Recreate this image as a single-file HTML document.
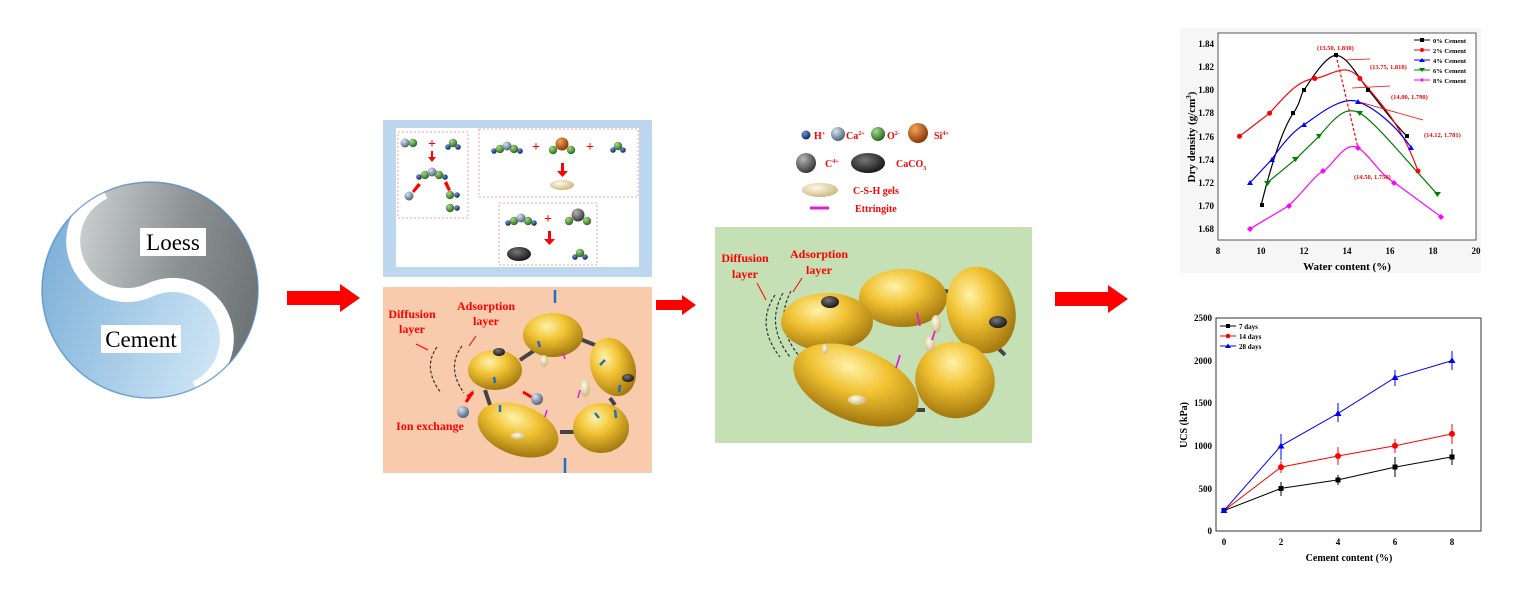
<!DOCTYPE html>
<html><head><meta charset="utf-8"><style>
html,body{margin:0;padding:0;background:#fff;}
svg{display:block;}
text{font-family:"Liberation Serif",serif;}
</style></head><body>
<svg width="1535" height="591" viewBox="0 0 1535 591" xmlns="http://www.w3.org/2000/svg">
<defs>
<radialGradient id="gold" cx="40%" cy="30%" r="70%"><stop offset="0" stop-color="#fff2a8"/><stop offset="0.45" stop-color="#f1c232"/><stop offset="1" stop-color="#a57a10"/></radialGradient>
<radialGradient id="gO" cx="35%" cy="30%" r="70%"><stop offset="0" stop-color="#a6d98a"/><stop offset="1" stop-color="#2f6b1e"/></radialGradient>
<radialGradient id="gH" cx="35%" cy="30%" r="70%"><stop offset="0" stop-color="#6f95d6"/><stop offset="1" stop-color="#10275c"/></radialGradient>
<radialGradient id="gCa" cx="35%" cy="30%" r="70%"><stop offset="0" stop-color="#d8e4f2"/><stop offset="1" stop-color="#4f6580"/></radialGradient>
<radialGradient id="gSi" cx="35%" cy="30%" r="70%"><stop offset="0" stop-color="#f6a35a"/><stop offset="1" stop-color="#8a3b05"/></radialGradient>
<radialGradient id="gC" cx="35%" cy="30%" r="70%"><stop offset="0" stop-color="#b5b5b5"/><stop offset="1" stop-color="#3a3a3a"/></radialGradient>
<radialGradient id="gK" cx="40%" cy="35%" r="70%"><stop offset="0" stop-color="#777"/><stop offset="1" stop-color="#111"/></radialGradient>
<radialGradient id="gS" cx="40%" cy="35%" r="70%"><stop offset="0" stop-color="#fffbe8"/><stop offset="1" stop-color="#c9b47a"/></radialGradient>
<linearGradient id="gray" x1="0" y1="0" x2="1" y2="1"><stop offset="0" stop-color="#d8dcdc"/><stop offset="0.5" stop-color="#8c9294"/><stop offset="1" stop-color="#5f6466"/></linearGradient>
<linearGradient id="blue" x1="0" y1="0" x2="1" y2="1"><stop offset="0" stop-color="#6fa6d2"/><stop offset="0.6" stop-color="#b7d7ee"/><stop offset="1" stop-color="#e9f4fb"/></linearGradient>
<g id="water"><circle cx="-5" cy="3" r="2.8" fill="url(#gH)"/><circle cx="5" cy="3" r="2.8" fill="url(#gH)"/><circle cx="0" cy="-1" r="4.2" fill="url(#gO)"/></g>
<g id="caoh"><circle cx="-13" cy="4" r="2.8" fill="url(#gH)"/><circle cx="13" cy="4" r="2.8" fill="url(#gH)"/><circle cx="-7" cy="2" r="4.2" fill="url(#gO)"/><circle cx="7" cy="2" r="4.2" fill="url(#gO)"/><circle cx="0" cy="-1" r="4.5" fill="url(#gCa)"/></g>
</defs>

<!-- Yin-yang -->
<g transform="translate(150,290) rotate(-25)">
<circle cx="0" cy="0" r="108" fill="url(#blue)"/>
<path d="M0,-108 A108,108 0 0 1 0,108 A54,54 0 0 0 0,0 A54,54 0 0 1 0,-108 Z" fill="url(#gray)"/>
<path d="M0,-108 A54,54 0 0 0 0,0 A54,54 0 0 1 0,108" fill="none" stroke="#fff" stroke-width="14"/>
<circle cx="0" cy="0" r="108" fill="none" stroke="#4a86c0" stroke-width="1.5" opacity="0.7"/>
</g>
<rect x="140" y="228" width="66" height="28" fill="#fff"/>
<text x="173" y="250" font-size="23" text-anchor="middle">Loess</text>
<rect x="101" y="325" width="80" height="28" fill="#fff"/>
<text x="141" y="347" font-size="23" text-anchor="middle">Cement</text>

<!-- arrows -->
<polygon points="287,291 340,291 340,284 360,298 340,312 340,305 287,305" fill="#f00"/>
<polygon points="656,300 682,300 682,295 696,305 682,315 682,310 656,310" fill="#f00"/>
<polygon points="1055,292 1108,292 1108,285 1128,299 1108,313 1108,306 1055,306" fill="#f00"/>

<!-- Blue reaction box -->
<rect x="383" y="120" width="269" height="157" fill="#bdd7ee"/>
<rect x="396" y="128" width="243" height="139" fill="#fff"/>
<g fill="none" stroke="#f4a0a0" stroke-width="1" stroke-dasharray="2 2">
<rect x="398" y="132" width="70" height="86"/><rect x="479" y="129" width="159" height="68"/><rect x="499" y="203" width="98" height="62"/></g>
<g font-family="Liberation Sans,sans-serif" font-size="14" fill="#f00" font-weight="bold">
<text x="428" y="148">+</text><text x="532" y="151">+</text><text x="586" y="151">+</text><text x="544" y="223">+</text></g>
<g fill="#f00"><rect x="431" y="151" width="2" height="6"/><polygon points="428,157 436,157 432,162"/>
<rect x="561" y="163" width="3" height="9"/><polygon points="557,171 568,171 562.5,177"/>
<rect x="548" y="231" width="3" height="9"/><polygon points="544,239 555,239 549.5,245"/>
<polygon points="418,183 421,185 414,193 412,191"/><polygon points="444,183 447,181 451,190 448,191"/></g>
<circle cx="405" cy="143" r="4.5" fill="url(#gCa)"/><circle cx="413" cy="143" r="4.2" fill="url(#gO)"/>
<use href="#water" x="453" y="144"/>
<use href="#caoh" x="432" y="173"/>
<circle cx="409" cy="196" r="4.5" fill="url(#gCa)"/>
<circle cx="450" cy="195" r="4.2" fill="url(#gO)"/><circle cx="457" cy="195" r="2.8" fill="url(#gH)"/>
<circle cx="450" cy="208" r="4.2" fill="url(#gO)"/><circle cx="457" cy="208" r="2.8" fill="url(#gH)"/>
<use href="#caoh" x="507" y="147"/>
<circle cx="553" cy="150" r="4.2" fill="url(#gO)"/><circle cx="571" cy="150" r="4.2" fill="url(#gO)"/><circle cx="562" cy="144" r="6.5" fill="url(#gSi)"/>
<use href="#water" x="618" y="147"/>
<ellipse cx="562" cy="185" rx="12" ry="5" fill="url(#gS)"/>
<use href="#caoh" x="521" y="219"/>
<circle cx="569" cy="221" r="4.2" fill="url(#gO)"/><circle cx="587" cy="221" r="4.2" fill="url(#gO)"/><circle cx="578" cy="215" r="6.5" fill="url(#gC)"/>
<ellipse cx="519" cy="254" rx="12" ry="7" fill="url(#gK)"/>
<use href="#water" x="580" y="254"/>

<!-- Orange box -->
<rect x="383" y="287" width="269" height="186" fill="#f8cbad"/>
<g font-weight="bold" font-size="12" fill="#f00" text-anchor="middle">
<text x="412" y="318">Diffusion</text><text x="412" y="333">layer</text>
<text x="486" y="310">Adsorption</text><text x="486" y="325">layer</text>
<text x="430" y="430">Ion exchange</text></g>
<g stroke="#f00" stroke-width="1"><line x1="416" y1="344" x2="428" y2="350"/><line x1="476" y1="336" x2="469" y2="346"/></g>
<g fill="none" stroke="#333" stroke-width="1.2" stroke-dasharray="3 2"><path d="M437,347 Q422,368 441,393"/><path d="M462,346 Q446,368 464,393"/></g>
<g stroke="#444" stroke-width="4"><line x1="520" y1="360" x2="535" y2="350"/><line x1="580" y1="339" x2="595" y2="345"/><line x1="560" y1="432" x2="575" y2="432"/><line x1="485" y1="390" x2="490" y2="405"/><line x1="610" y1="398" x2="615" y2="405"/></g>
<ellipse cx="553" cy="335" rx="30" ry="22" fill="url(#gold)"/>
<ellipse cx="613" cy="367" rx="22" ry="30" transform="rotate(-20 613 367)" fill="url(#gold)"/>
<ellipse cx="495" cy="370" rx="27" ry="20" fill="url(#gold)"/>
<ellipse cx="518" cy="430" rx="42" ry="25" transform="rotate(20 518 430)" fill="url(#gold)"/>
<ellipse cx="601" cy="428" rx="28" ry="25" fill="url(#gold)"/>
<ellipse cx="499" cy="352" rx="6" ry="4" fill="url(#gK)"/><ellipse cx="628" cy="378" rx="6" ry="4" fill="url(#gK)"/>
<ellipse cx="518" cy="436" rx="7" ry="3.5" fill="url(#gS)"/><ellipse cx="585" cy="388" rx="5" ry="9" fill="url(#gS)"/><ellipse cx="544" cy="361" rx="4" ry="6" fill="url(#gS)"/>
<g stroke="#e020d0" stroke-width="1.5"><line x1="563" y1="353" x2="565" y2="359"/><line x1="580" y1="390" x2="578" y2="398"/><line x1="547" y1="410" x2="545" y2="417"/></g>
<g stroke="#1f6fc0" stroke-width="2.5"><line x1="555" y1="290" x2="555" y2="303"/><line x1="565" y1="458" x2="565" y2="473"/><line x1="538" y1="341" x2="540" y2="347"/><line x1="494" y1="377" x2="495" y2="383"/><line x1="500" y1="405" x2="500" y2="412"/><line x1="600" y1="365" x2="605" y2="360"/><line x1="620" y1="385" x2="619" y2="392"/><line x1="595" y1="413" x2="599" y2="418"/><line x1="615" y1="410" x2="616" y2="418"/></g>
<g fill="#f00"><polygon points="474,390 470,398 466,396"/><line x1="466" y1="402" x2="473" y2="392" stroke="#f00" stroke-width="3"/><line x1="523" y1="392" x2="533" y2="398" stroke="#f00" stroke-width="3"/></g>
<circle cx="537" cy="399" r="6" fill="url(#gCa)"/><circle cx="463" cy="412" r="6" fill="url(#gCa)"/>

<!-- Legend -->
<circle cx="806" cy="135" r="4.5" fill="url(#gH)"/><circle cx="838" cy="134" r="7" fill="url(#gCa)"/><circle cx="878" cy="134" r="7" fill="url(#gO)"/><circle cx="918" cy="133" r="10" fill="url(#gSi)"/>
<circle cx="806" cy="163" r="10" fill="url(#gC)"/><ellipse cx="868" cy="163" rx="17" ry="10" fill="url(#gK)"/>
<ellipse cx="820" cy="190" rx="18" ry="7" fill="url(#gS)"/><line x1="810" y1="208" x2="829" y2="208" stroke="#e020d0" stroke-width="3"/>
<g font-weight="bold" font-size="10" fill="#f00">
<text x="814" y="139">H<tspan font-size="6" dy="-4">+</tspan></text>
<text x="846" y="139">Ca<tspan font-size="6" dy="-4">2+</tspan></text>
<text x="887" y="139">O<tspan font-size="6" dy="-4">2-</tspan></text>
<text x="934" y="139">Si<tspan font-size="6" dy="-4">4+</tspan></text>
<text x="825" y="167">C<tspan font-size="6" dy="-4">4+</tspan></text>
<text x="896" y="167">CaCO<tspan font-size="6" dy="3">3</tspan></text>
<text x="853" y="194">C-S-H gels</text>
<text x="855" y="212">Ettringite</text></g>

<!-- Green box -->
<rect x="715" y="227" width="317" height="216" fill="#c5e0b4"/>
<g font-weight="bold" font-size="12" fill="#f00" text-anchor="middle">
<text x="745" y="262">Diffusion</text><text x="745" y="278">layer</text>
<text x="819" y="258">Adsorption</text><text x="819" y="274">layer</text></g>
<g stroke="#f00" stroke-width="1"><line x1="757" y1="283" x2="766" y2="300"/><line x1="802" y1="278" x2="793" y2="292"/></g>
<g fill="none" stroke="#333" stroke-width="1.2" stroke-dasharray="3 2"><path d="M775,295 Q755,325 780,357"/><path d="M783,293 Q765,325 790,357"/><path d="M791,291 Q773,325 800,357"/></g>
<g stroke="#444" stroke-width="4"><line x1="870" y1="305" x2="880" y2="298"/><line x1="940" y1="290" x2="950" y2="292"/><line x1="910" y1="410" x2="925" y2="410"/><line x1="995" y1="345" x2="1005" y2="355"/></g>
<ellipse cx="903" cy="298" rx="44" ry="29" fill="url(#gold)"/>
<ellipse cx="981" cy="310" rx="34" ry="44" transform="rotate(-15 981 310)" fill="url(#gold)"/>
<ellipse cx="827" cy="322" rx="46" ry="29" fill="url(#gold)"/>
<ellipse cx="856" cy="385" rx="66" ry="36" transform="rotate(22 856 385)" fill="url(#gold)"/>
<ellipse cx="955" cy="380" rx="40" ry="38" transform="rotate(20 955 380)" fill="url(#gold)"/>
<ellipse cx="830" cy="302" rx="9" ry="6" fill="url(#gK)"/><ellipse cx="998" cy="322" rx="9" ry="6" fill="url(#gK)"/>
<ellipse cx="857" cy="400" rx="9" ry="5" fill="url(#gS)"/><ellipse cx="936" cy="324" rx="5" ry="9" fill="url(#gS)"/><ellipse cx="930" cy="344" rx="5" ry="8" fill="url(#gS)"/><ellipse cx="825" cy="349" rx="3" ry="5" fill="url(#gS)"/>
<g stroke="#e020d0" stroke-width="1.8"><line x1="917" y1="313" x2="920" y2="326"/><line x1="935" y1="331" x2="932" y2="340"/><line x1="900" y1="355" x2="896" y2="368"/></g>

<!-- Chart 1 -->
<rect x="1180" y="28" width="301" height="245" fill="#f6f6f6"/>
<rect x="1218" y="33" width="258" height="207" fill="#fff" stroke="#555" stroke-width="1"/>
<g font-weight="bold" font-size="9" fill="#000">
<g text-anchor="end"><text x="1214" y="47">1.84</text><text x="1214" y="70">1.82</text><text x="1214" y="93">1.80</text><text x="1214" y="116">1.78</text><text x="1214" y="140">1.76</text><text x="1214" y="163">1.74</text><text x="1214" y="186">1.72</text><text x="1214" y="209">1.70</text><text x="1214" y="232">1.68</text></g>
<g text-anchor="middle"><text x="1218" y="254">8</text><text x="1261" y="254">10</text><text x="1304" y="254">12</text><text x="1347" y="254">14</text><text x="1390" y="254">16</text><text x="1433" y="254">18</text><text x="1476" y="254">20</text>
<text x="1347" y="270" font-size="11">Water content (%)</text></g>
<text transform="translate(1195,137) rotate(-90)" font-size="11" text-anchor="middle">Dry density (g/cm<tspan font-size="7" dy="-4">3</tspan><tspan dy="4">)</tspan></text>
</g>
<g fill="none" stroke-width="1.2">
<path d="M1261,205.6 C1275,150 1285,125 1293.3,113.2 S1300,95 1304,90 S1325,55 1336.3,55.4 S1360,80 1368.5,90 S1395,125 1407.2,136.3" stroke="#000"/>
<path d="M1239.5,136.3 L1269.6,113.2 C1290,90 1300,80 1314.8,78.5 S1345,60 1359.9,78.5 S1400,120 1418,171" stroke="#f00"/>
<path d="M1250.3,182.5 L1271.8,159.4 C1285,140 1295,130 1304,124.7 S1340,95 1357.8,101.6 S1395,125 1411.5,147.8" stroke="#00f"/>
<path d="M1267.5,182.5 L1295.4,159.4 L1319,136.3 C1335,118 1345,105 1359.9,113.2 S1410,165 1437.3,194.1" stroke="#008000"/>
<path d="M1250.3,228.7 L1289,205.6 C1305,190 1315,175 1323.4,171 S1345,140 1357.8,147.8 S1380,175 1394.3,182.5 L1441.6,217.2" stroke="#f0f"/>
<line x1="1336" y1="55" x2="1358" y2="148" stroke="#f00" stroke-dasharray="3 2"/>
<g stroke="#f00" stroke-width="0.8"><line x1="1345" y1="60" x2="1370" y2="59"/><line x1="1352" y1="88" x2="1390" y2="86"/><line x1="1356" y1="101" x2="1423" y2="120"/></g>
</g>
<g font-size="5">
<g fill="#000"><rect x="1260" y="203" width="4" height="4"/><rect x="1291" y="111" width="4" height="4"/><rect x="1302" y="88" width="4" height="4"/><rect x="1334" y="53" width="4" height="4"/><rect x="1366" y="88" width="4" height="4"/><rect x="1405" y="134" width="4" height="4"/></g>
<g fill="#f00"><circle cx="1239.5" cy="136.3" r="2.5"/><circle cx="1269.6" cy="113.2" r="2.5"/><circle cx="1314.8" cy="78.5" r="2.5"/><circle cx="1359.9" cy="78.5" r="2.5"/><circle cx="1418" cy="171" r="2.5"/></g>
<g fill="#00f"><polygon points="1250,180 1253,185 1247,185"/><polygon points="1272,157 1275,162 1269,162"/><polygon points="1304,122 1307,127 1301,127"/><polygon points="1358,99 1361,104 1355,104"/><polygon points="1411,145 1414,150 1408,150"/></g>
<g fill="#008000"><polygon points="1264,181 1271,181 1267.5,186"/><polygon points="1292,157 1299,157 1295.4,162"/><polygon points="1316,134 1322,134 1319,139"/><polygon points="1356,111 1363,111 1359.9,116"/><polygon points="1434,192 1441,192 1437.3,197"/></g>
<g fill="#f0f"><polygon points="1250,226 1253,229 1250,232 1247,229"/><polygon points="1289,203 1292,206 1289,209 1286,206"/><polygon points="1323,168 1326,171 1323,174 1320,171"/><polygon points="1358,145 1361,148 1358,151 1355,148"/><polygon points="1394,180 1397,183 1394,186 1391,183"/><polygon points="1441,214 1444,217 1441,220 1438,217"/></g>
</g>
<g font-weight="bold" font-size="6.5" fill="#f00">
<text x="1317" y="50">(13.50, 1.830)</text><text x="1370" y="69">(13.75, 1.818)</text><text x="1391" y="99">(14.00, 1.790)</text><text x="1424" y="137">(14.12, 1.781)</text><text x="1354" y="179">(14.50, 1.750)</text></g>
<g font-weight="bold" font-size="6.5" fill="#000">
<line x1="1414" y1="40" x2="1430" y2="40" stroke="#000"/><rect x="1420" y="38" width="4" height="4"/><text x="1433" y="43">0% Cement</text>
<line x1="1414" y1="50" x2="1430" y2="50" stroke="#f00"/><circle cx="1422" cy="50" r="2" fill="#f00"/><text x="1433" y="53">2% Cement</text>
<line x1="1414" y1="60" x2="1430" y2="60" stroke="#00f"/><polygon points="1422,58 1425,62 1419,62" fill="#00f"/><text x="1433" y="63">4% Cement</text>
<line x1="1414" y1="70" x2="1430" y2="70" stroke="#008000"/><polygon points="1419,68 1425,68 1422,72" fill="#008000"/><text x="1433" y="73">6% Cement</text>
<line x1="1414" y1="80" x2="1430" y2="80" stroke="#f0f"/><polygon points="1422,78 1424,80 1422,82 1420,80" fill="#f0f"/><text x="1433" y="83">8% Cement</text></g>

<!-- Chart 2 -->
<rect x="1216" y="318" width="265" height="213" fill="#fff" stroke="#333" stroke-width="1"/>
<g font-weight="bold" font-size="9" fill="#000">
<g text-anchor="end"><text x="1212" y="321">2500</text><text x="1212" y="364">2000</text><text x="1212" y="406">1500</text><text x="1212" y="449">1000</text><text x="1212" y="492">500</text><text x="1212" y="534">0</text></g>
<g text-anchor="middle"><text x="1224" y="545">0</text><text x="1281" y="545">2</text><text x="1338" y="545">4</text><text x="1395" y="545">6</text><text x="1452" y="545">8</text>
<text x="1349" y="561" font-size="10">Cement content (%)</text></g>
<text transform="translate(1187,425) rotate(-90)" font-size="10" text-anchor="middle">UCS (kPa)</text>
</g>
<g fill="none" stroke-width="1">
<polyline points="1224,510.6 1281,488.4 1338,479.9 1395,467.1 1452,456.9" stroke="#000"/>
<polyline points="1224,510.6 1281,467.1 1338,456 1395,445.8 1452,433.9" stroke="#f00"/>
<polyline points="1224,510.6 1281,445.8 1338,413.4 1395,377.6 1452,360.6" stroke="#00f"/>
<g stroke="#000"><line x1="1281" y1="482" x2="1281" y2="496"/><line x1="1338" y1="475" x2="1338" y2="485"/><line x1="1395" y1="457" x2="1395" y2="477"/><line x1="1452" y1="449" x2="1452" y2="465"/></g>
<g stroke="#f00"><line x1="1281" y1="461" x2="1281" y2="473"/><line x1="1338" y1="447" x2="1338" y2="465"/><line x1="1395" y1="439" x2="1395" y2="453"/><line x1="1452" y1="424" x2="1452" y2="444"/></g>
<g stroke="#00f"><line x1="1281" y1="434" x2="1281" y2="460"/><line x1="1338" y1="403" x2="1338" y2="422"/><line x1="1395" y1="370" x2="1395" y2="386"/><line x1="1452" y1="351" x2="1452" y2="370"/></g>
</g>
<g>
<g fill="#000"><rect x="1221.5" y="508" width="5" height="5"/><rect x="1278.5" y="486" width="5" height="5"/><rect x="1335.5" y="477.5" width="5" height="5"/><rect x="1392.5" y="464.5" width="5" height="5"/><rect x="1449.5" y="454.5" width="5" height="5"/></g>
<g fill="#f00"><circle cx="1281" cy="467.1" r="3"/><circle cx="1338" cy="456" r="3"/><circle cx="1395" cy="445.8" r="3"/><circle cx="1452" cy="433.9" r="3"/></g>
<g fill="#00f"><polygon points="1224,507 1227.5,513 1220.5,513"/><polygon points="1281,442.5 1284.5,448.5 1277.5,448.5"/><polygon points="1338,410 1341.5,416 1334.5,416"/><polygon points="1395,374 1398.5,380 1391.5,380"/><polygon points="1452,357 1455.5,363 1448.5,363"/></g>
</g>
<g font-weight="bold" font-size="7" fill="#000">
<line x1="1220" y1="326" x2="1236" y2="326" stroke="#000"/><rect x="1226" y="324" width="4" height="4"/><text x="1239" y="329">7 days</text>
<line x1="1220" y1="336" x2="1236" y2="336" stroke="#f00"/><circle cx="1228" cy="336" r="2.3" fill="#f00"/><text x="1239" y="339">14 days</text>
<line x1="1220" y1="346" x2="1236" y2="346" stroke="#00f"/><polygon points="1228,343.5 1231,348 1225,348" fill="#00f"/><text x="1239" y="349">28 days</text></g>
</svg>
</body></html>
